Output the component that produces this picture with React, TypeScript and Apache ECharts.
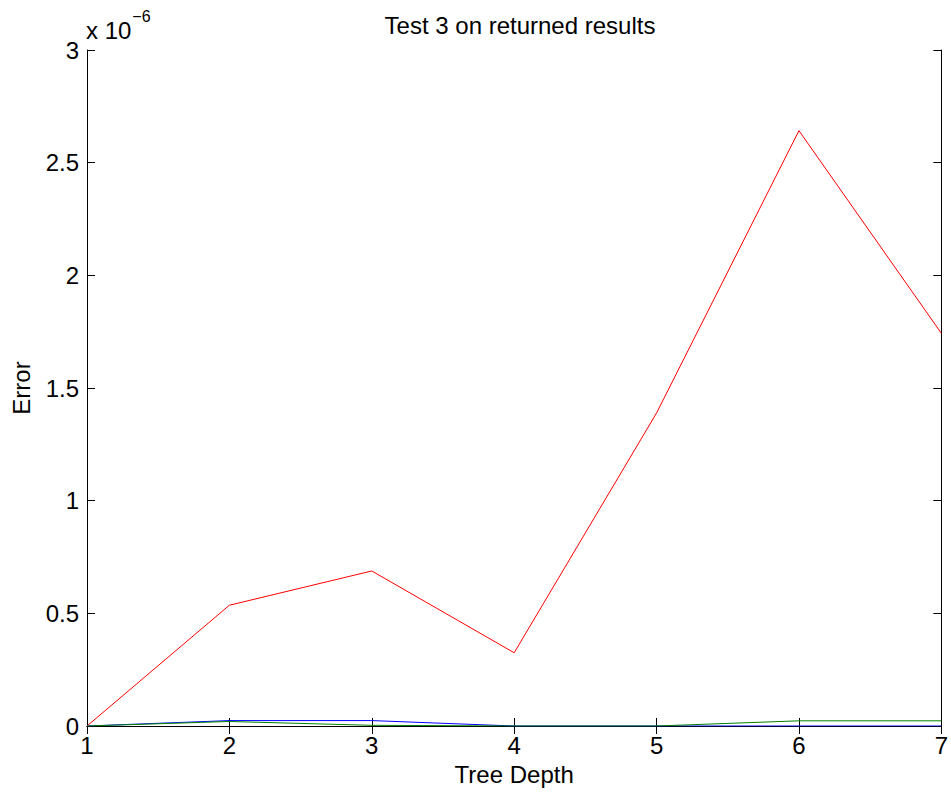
import React, { useEffect, useRef } from "react";
import * as echarts from "echarts";

const depths = [1, 2, 3, 4, 5, 6, 7];
// values in units of 1e-6
const redErr = [0, 0.536, 0.688, 0.325, 1.389, 2.642, 1.743];
const blueErr = [0, 0.024, 0.024, 0, 0, 0, 0];
const greenErr = [0, 0.02, 0.003, 0, 0, 0.023, 0.023];

const FONT = "'Liberation Sans', Arial, Helvetica, sans-serif";
const FS = 24;

export default function App() {
  const ref = useRef<HTMLDivElement>(null);
  useEffect(() => {
    if (!ref.current) return;
    const chart = echarts.init(ref.current, null, { renderer: "svg" });
    const pair = (arr: number[]) => depths.map((d, i) => [d, arr[i]]);
    const axisCommon = {
      type: "value" as const,
      axisLine: { show: true, lineStyle: { color: "#000", width: 1 } },
      axisTick: { show: true, inside: true, length: 8, lineStyle: { color: "#000", width: 1 } },
      splitLine: { show: false },
    };
    chart.setOption({
      animation: false,
      backgroundColor: "#fff",
      textStyle: { fontFamily: FONT },
      title: {
        text: "Test 3 on returned results",
        left: 515,
        textAlign: "center",
        top: 8,
        textStyle: { fontFamily: FONT, fontSize: FS, fontWeight: "normal", color: "#000" },
      },
      grid: { left: 87, top: 50, right: 8, bottom: 69, containLabel: false },
      xAxis: [
        {
          ...axisCommon,
          position: "bottom",
          min: 1,
          max: 7,
          interval: 1,
          name: "Tree Depth",
          nameLocation: "middle",
          nameGap: 36,
          nameTextStyle: { fontFamily: FONT, fontSize: FS, color: "#000" },
          axisLabel: { fontFamily: FONT, fontSize: FS, color: "#000", margin: 7 },
        },
        {
          ...axisCommon,
          position: "top",
          min: 1,
          max: 7,
          interval: 1,
          axisLabel: { show: false },
        },
      ],
      yAxis: [
        {
          ...axisCommon,
          position: "left",
          min: 0,
          max: 3,
          interval: 0.5,
          name: "Error",
          nameLocation: "middle",
          nameGap: 54,
          nameTextStyle: { fontFamily: FONT, fontSize: FS, color: "#000" },
          axisLabel: { fontFamily: FONT, fontSize: FS, color: "#000", margin: 8 },
        },
        {
          ...axisCommon,
          position: "right",
          min: 0,
          max: 3,
          interval: 0.5,
          axisLabel: { show: false },
        },
      ],
      graphic: [
        {
          type: "text",
          left: 86,
          top: 8,
          style: {
            text: "{a|x 10}{b|−6}",
            rich: {
              a: { fontFamily: FONT, fontSize: FS, fill: "#000", verticalAlign: "bottom", lineHeight: 34 },
              b: { fontFamily: FONT, fontSize: 16, fill: "#000", verticalAlign: "top", lineHeight: 34, padding: [0, 0, 16, 1] },
            },
          },
        },
      ],
      series: [
        { type: "line", data: pair(redErr), showSymbol: false, lineStyle: { color: "#ff0000", width: 1 }, itemStyle: { color: "#ff0000" }, z: 2 },
        { type: "line", data: pair(blueErr), showSymbol: false, lineStyle: { color: "#0000ff", width: 1 }, itemStyle: { color: "#0000ff" }, z: 3 },
        { type: "line", data: pair(greenErr), showSymbol: false, lineStyle: { color: "#008000", width: 1 }, itemStyle: { color: "#008000" }, z: 4 },
      ],
    });
    return () => chart.dispose();
  }, []);
  return (
    <div
      ref={ref}
      style={{ position: "fixed", left: 0, top: 0, width: 951, height: 795, background: "#fff" }}
    />
  );
}
